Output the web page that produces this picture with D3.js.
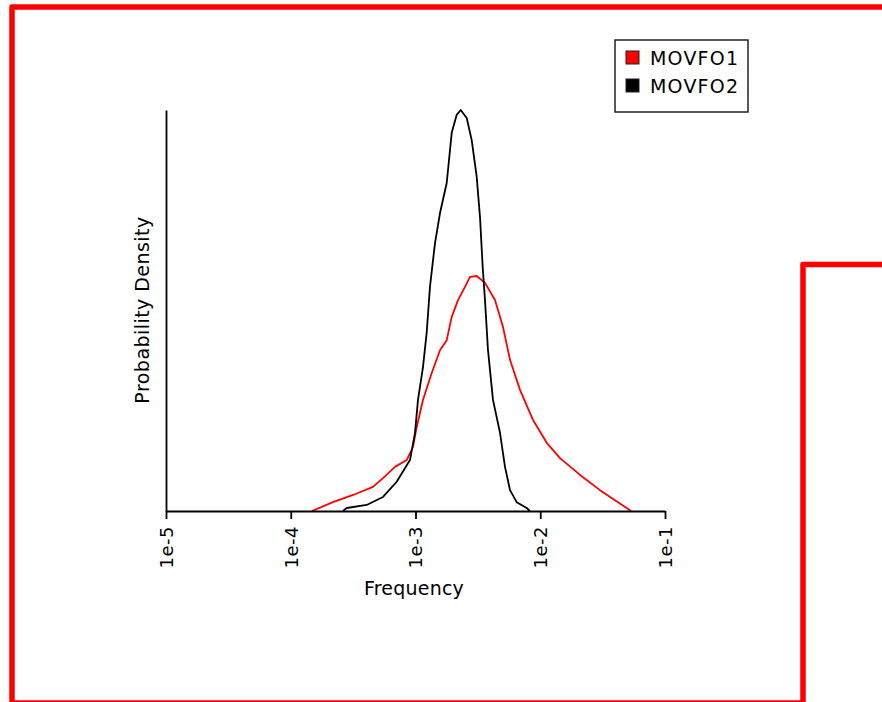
<!DOCTYPE html>
<html>
<head>
<meta charset="utf-8">
<script src="https://cdn.jsdelivr.net/npm/d3@7"></script>
<style>
  body { margin: 0; background: #fff; }
  text { font-family: "DejaVu Sans", sans-serif; }
</style>
</head>
<body>
<div id="chart"></div>
<script>
// series names and colours
const seriesNames = ["MOVFO1", "MOVFO2"];
const seriesColors = ["#ff0000", "#000000"];

// x ticks (log frequency)
const xTicks = [1e-5, 1e-4, 1e-3, 1e-2, 1e-1];
const xTickLabels = ["1e-5", "1e-4", "1e-3", "1e-2", "1e-1"];

// MOVFO1 - frequency / relative density
const movfo1Freq = [1.48e-4, 2.18e-4, 3.16e-4, 4.56e-4, 5.49e-4, 6.85e-4, 8.50e-4, 9.55e-4, 1.022e-3,
    1.148e-3, 1.349e-3, 1.572e-3, 1.779e-3, 1.951e-3, 2.192e-3, 2.493e-3, 2.735e-3, 3.095e-3,
    3.606e-3, 4.338e-3, 5.029e-3, 5.722e-3, 6.88e-3, 8.746e-3, 1.127e-2, 1.44e-2, 2.083e-2,
    3.013e-2, 3.973e-2, 5.35e-2];
const movfo1Dens = [0, 0.022, 0.040, 0.060, 0.082, 0.110, 0.127, 0.160, 0.209,
    0.277, 0.344, 0.401, 0.426, 0.484, 0.526, 0.559, 0.584, 0.586,
    0.569, 0.526, 0.459, 0.377, 0.302, 0.227, 0.170, 0.132, 0.090,
    0.052, 0.027, 0];

// MOVFO2 - frequency / relative density
const movfo2Freq = [2.62e-4, 2.81e-4, 4.06e-4, 5.49e-4, 7.07e-4, 9.03e-4, 9.91e-4, 1.047e-3, 1.148e-3,
    1.229e-3, 1.306e-3, 1.433e-3, 1.572e-3, 1.779e-3, 1.951e-3, 2.140e-3, 2.303e-3, 2.573e-3,
    2.822e-3, 3.095e-3, 3.289e-3, 3.457e-3, 3.606e-3, 3.812e-3, 4.18e-3, 4.757e-3, 5.217e-3,
    5.722e-3, 6.474e-3, 7.786e-3, 8.27e-3];
const movfo2Dens = [0, 0.0075, 0.015, 0.035, 0.073, 0.127, 0.195, 0.277, 0.359,
    0.444, 0.559, 0.668, 0.743, 0.818, 0.943, 0.988, 1.0, 0.980,
    0.925, 0.833, 0.733, 0.608, 0.526, 0.401, 0.277, 0.195, 0.110,
    0.052, 0.022, 0.0075, 0];

function main(){
    let width = 882;
    let height = 702;

    let svg = d3.select("#chart").append("svg")
        .attr("width", width)
        .attr("height", height);

    // red frame
    svg.append("path")
        .attr("d", "M12,712 L12,7 L892,7 M12,703 L803,703 M803,712 L803,264.5 L892,264.5")
        .attr("fill", "none")
        .attr("stroke", "#ff0000")
        .attr("stroke-width", 5.5)
        .attr("stroke-linejoin", "round");

    let x = d3.scaleLog().domain([1e-5, 1e-1]).range([166, 665]);
    let y = d3.scaleLinear().domain([0, 1]).range([511, 110]);

    // curves
    let series = [
        movfo1Freq.map((f, i) => [f, movfo1Dens[i]]),
        movfo2Freq.map((f, i) => [f, movfo2Dens[i]])
    ];
    let line = d3.line()
        .x(d => x(d[0]))
        .y(d => y(d[1]));

    svg.selectAll("path.curve")
        .data(series)
        .enter()
        .append("path")
        .attr("class", "curve")
        .attr("d", d => line(d))
        .attr("fill", "none")
        .attr("stroke", (d, i) => seriesColors[i])
        .attr("stroke-width", 1.8)
        .attr("stroke-linejoin", "round");

    // axes
    let xAxis = d3.axisBottom(x)
        .tickValues(xTicks)
        .tickFormat((d, i) => xTickLabels[i])
        .tickSize(8)
        .tickSizeOuter(0);

    let gx = svg.append("g")
        .attr("transform", "translate(0," + y(0) + ")")
        .call(xAxis);
    gx.select(".domain").attr("stroke", "#000").attr("stroke-width", 1.8);
    gx.selectAll(".tick line").attr("stroke", "#000").attr("stroke-width", 1.8);
    gx.selectAll(".tick text")
        .attr("transform", "rotate(-90)")
        .attr("x", -15)
        .attr("y", 0)
        .attr("dy", "0.36em")
        .attr("text-anchor", "end")
        .attr("fill", "#000")
        .style("font-size", "18px")
        .style("font-family", "DejaVu Sans")
        .style("letter-spacing", "0.5px");

    let yAxis = d3.axisLeft(y).tickValues([]).tickSizeOuter(0);
    let gy = svg.append("g")
        .attr("transform", "translate(" + x(1e-5) + ",0)")
        .call(yAxis);
    gy.select(".domain").attr("stroke", "#000").attr("stroke-width", 1.8);

    // axis titles
    svg.append("text")
        .attr("x", 414)
        .attr("y", 595)
        .attr("text-anchor", "middle")
        .style("font-size", "19px")
        .style("letter-spacing", "0.2px")
        .text("Frequency");

    svg.append("text")
        .attr("transform", "translate(149,310) rotate(-90)")
        .attr("text-anchor", "middle")
        .style("font-size", "19px")
        .style("letter-spacing", "0.45px")
        .text("Probability Density");

    // legend
    let legend = svg.append("g").attr("transform", "translate(615,40)");
    legend.append("rect")
        .attr("width", 133)
        .attr("height", 72)
        .attr("fill", "#fff")
        .attr("stroke", "#222")
        .attr("stroke-width", 1.5);

    let items = legend.selectAll("g.item")
        .data(seriesNames)
        .enter()
        .append("g")
        .attr("class", "item")
        .attr("transform", (d, i) => "translate(0," + (i * 28) + ")");
    items.append("rect")
        .attr("x", 11)
        .attr("y", 11)
        .attr("width", 13)
        .attr("height", 13)
        .attr("fill", (d, i) => seriesColors[i])
        .attr("stroke", "#222")
        .attr("stroke-width", 1);
    items.append("text")
        .attr("x", 35)
        .attr("y", 25)
        .style("font-size", "19px")
        .style("letter-spacing", "1.2px")
        .text(d => d);
}

main();
</script>
</body>
</html>
